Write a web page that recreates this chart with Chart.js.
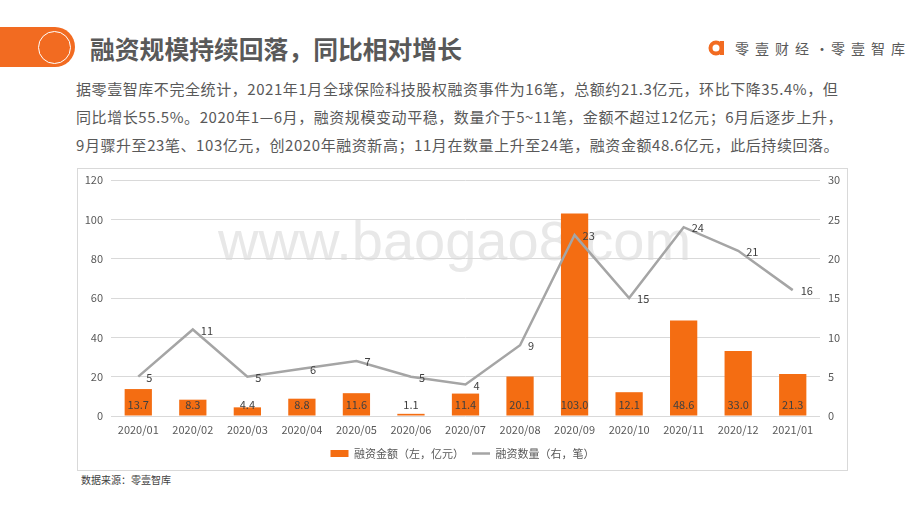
<!DOCTYPE html>
<html>
<head>
<meta charset="utf-8">
<script src="https://cdn.jsdelivr.net/npm/chart.js@4.4.1/dist/chart.umd.min.js"></script>
<style>
  body { margin: 0; background: #fff; font-family: "Noto Sans CJK SC", "Noto Sans", sans-serif; }
  #page { position: relative; width: 920px; height: 518px; overflow: hidden; }
  .tab { position: absolute; left: 0; top: 27px; width: 75px; height: 40px; background: #F26B21; border-radius: 0 20px 20px 0; }
  .ring { position: absolute; left: 38px; top: 31px; width: 33px; height: 33px; border: 1.5px solid #fff; border-radius: 50%; box-sizing: border-box; }
  .title { position: absolute; left: 90px; top: 31px; font-size: 24.8px; font-weight: bold; color: #595959; line-height: 34px; }
  .logo { position: absolute; left: 708px; top: 38px; }
  .logo-text { position: absolute; left: 735px; top: 37px; font-size: 14px; color: #595959; letter-spacing: 6px; line-height: 22px; white-space: nowrap; }
  .logo-text span { letter-spacing: 2px; }
  .para { position: absolute; left: 76px; top: 75px; font-size: 15px; letter-spacing: 0.57px; color: #595959; line-height: 28px; white-space: nowrap; }
  .box { position: absolute; left: 77px; top: 168px; width: 771px; height: 303px; border: 1px solid #D9D9D9; box-sizing: border-box; }
  .mark { position: absolute; left: 218px; top: 208px; font-family: "Liberation Sans", sans-serif; font-size: 56px; color: #E8E8E8; white-space: nowrap; }
  #chart-container { position: absolute; left: 77px; top: 168px; width: 771px; height: 303px; }
  .source { position: absolute; left: 81px; top: 472px; font-size: 10px; color: #404040; }
</style>
</head>
<body>
<div id="page">
  <div class="tab"></div>
  <div class="ring"></div>
  <div class="title">融资规模持续回落，同比相对增长</div>
  <svg class="logo" width="18" height="20" viewBox="0 0 18 20">
    <circle cx="8" cy="10" r="5.5" fill="none" stroke="#F26B21" stroke-width="4"/>
    <rect x="12" y="3" width="4" height="14" fill="#F26B21"/>
  </svg>
  <div class="logo-text">零壹财经<span>·</span>零壹智库</div>
  <div class="para">据零壹智库不完全统计，2021年1月全球保险科技股权融资事件为16笔，总额约21.3亿元，环比下降35.4%，但<br>同比增长55.5%。2020年1—6月，融资规模变动平稳，数量介于5~11笔，金额不超过12亿元；6月后逐步上升，<br>9月骤升至23笔、103亿元，创2020年融资新高；11月在数量上升至24笔，融资金额48.6亿元，此后持续回落。</div>
  <div class="box"></div>
  <div class="mark">www.baogao8.com</div>
  <div id="chart-container"><canvas id="chart"></canvas></div>
  <div class="source">数据来源：零壹智库</div>
</div>
<script>
const months = ['2020/01', '2020/02', '2020/03', '2020/04', '2020/05', '2020/06', '2020/07',
                '2020/08', '2020/09', '2020/10', '2020/11', '2020/12', '2021/01'];
const amounts = [13.7, 8.3, 4.4, 8.8, 11.6, 1.1, 11.4, 20.1, 103.0, 12.1, 48.6, 33.0, 21.3];
const counts = [5, 11, 5, 6, 7, 5, 4, 9, 23, 15, 24, 21, 16];
const leftTicks = [0, 20, 40, 60, 80, 100, 120];
const rightTicks = [0, 5, 10, 15, 20, 25, 30];

const fontFamily = '"Noto Sans CJK SC", "Noto Sans", sans-serif';

// draws the value labels (no datalabels plugin available)
const valueLabels = {
    id: 'valueLabels',
    afterDatasetsDraw(chart) {
        const ctx = chart.ctx;
        ctx.save();
        ctx.font = '11px ' + fontFamily;
        ctx.fillStyle = '#404040';
        ctx.textBaseline = 'middle';

        chart.getDatasetMeta(0).data.forEach((bar, i) => {
            ctx.textAlign = 'center';
            ctx.fillText(amounts[i].toFixed(1), bar.x, bar.base - 11);
        });
        chart.getDatasetMeta(1).data.forEach((pt, i) => {
            ctx.textAlign = 'left';
            ctx.fillText(String(counts[i]), pt.x + 8, pt.y + 1);
        });
        ctx.restore();
    }
};

new Chart(document.getElementById('chart'), {
    type: 'bar',
    data: {
        labels: months,
        datasets: [{
            label: '融资金额（左，亿元）',
            data: amounts,
            yAxisID: 'y',
            backgroundColor: '#F46D12',
            borderColor: '#F46D12',
            borderWidth: 0,
            barPercentage: 0.5,
            categoryPercentage: 1,
            pointStyle: 'rect',
            order: 1
        }, {
            type: 'line',
            label: '融资数量（右，笔）',
            data: counts,
            yAxisID: 'y1',
            borderColor: '#A5A5A5',
            backgroundColor: '#A5A5A5',
            borderWidth: 2.5,
            pointRadius: 0,
            pointHoverRadius: 0,
            pointStyle: 'line',
            tension: 0,
            order: 0
        }]
    },
    options: {
        responsive: true,
        maintainAspectRatio: false,
        animation: false,
        layout: { padding: { top: 12, bottom: 2, left: 0, right: 0 } },
        plugins: {
            tooltip: { enabled: false },
            legend: {
                position: 'bottom',
                labels: {
                    usePointStyle: true,
                    pointStyleWidth: 18,
                    boxHeight: 7,
                    padding: 8,
                    color: '#595959',
                    font: { size: 11, family: fontFamily },
                    sort: (a, b) => a.datasetIndex - b.datasetIndex
                }
            }
        },
        scales: {
            x: {
                grid: { display: false, drawTicks: false },
                border: { display: false },
                ticks: { color: '#595959', padding: 7, font: { size: 11, family: fontFamily }, maxRotation: 0 },
                afterFit(scale) { scale.height = 24; }
            },
            y: {
                position: 'left',
                min: 0,
                max: 120,
                afterBuildTicks(scale) { scale.ticks = leftTicks.map(v => ({ value: v })); },
                grid: { color: '#D9D9D9', drawTicks: false },
                border: { display: false },
                ticks: { color: '#595959', padding: 8, font: { size: 11, family: fontFamily } },
                afterFit(scale) { scale.width = 34; scale.paddingTop = 0; scale.paddingBottom = 0; }
            },
            y1: {
                position: 'right',
                min: 0,
                max: 30,
                afterBuildTicks(scale) { scale.ticks = rightTicks.map(v => ({ value: v })); },
                grid: { drawOnChartArea: false, drawTicks: false },
                border: { display: false },
                ticks: { color: '#595959', padding: 8, font: { size: 11, family: fontFamily } },
                afterFit(scale) { scale.width = 28; scale.paddingTop = 0; scale.paddingBottom = 0; }
            }
        }
    },
    plugins: [valueLabels]
});
</script>
</body>
</html>
